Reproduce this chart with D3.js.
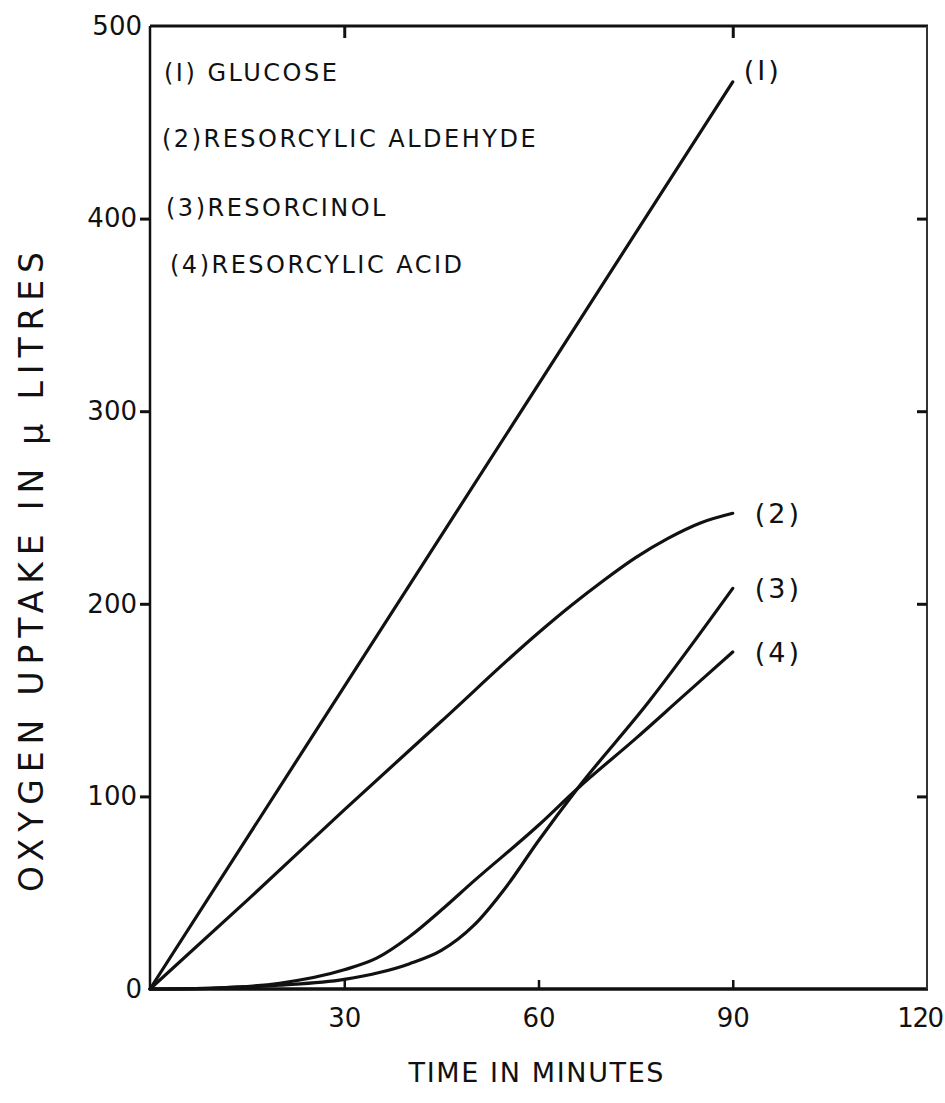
<!DOCTYPE html>
<html>
<head>
<meta charset="utf-8">
<script src="https://cdn.jsdelivr.net/npm/d3@7"></script>
<style>
  html, body { margin: 0; padding: 0; background: #fff; }
  svg { display: block; }
  text { font-family: "DejaVu Sans", sans-serif; fill: #111; }
</style>
</head>
<body>
<svg id="chart" width="945" height="1103"></svg>
<script>
// Oxygen uptake (µl) against time (minutes) for four substrates
const glucoseTime = [0, 90];
const glucoseUptake = [0, 471];

const aldehydeTime = [0, 15, 30, 45, 60, 65, 70, 75, 80, 85, 90];
const aldehydeUptake = [0, 46, 93, 139, 185, 199, 212, 224, 234, 242, 247];

const resorcinolTime = [0, 10, 20, 30, 40, 45, 50, 55, 60, 66, 77, 90];
const resorcinolUptake = [0, 0.5, 2, 5, 13, 20, 33, 53, 77, 104, 149, 208];

const acidTime = [0, 10, 20, 30, 35, 40, 45, 50, 60, 66, 75, 82, 90];
const acidUptake = [0, 0.5, 3, 10, 16, 27, 41, 56, 85, 104, 130, 151, 175];

const seriesTags = ["(I)", "(2)", "(3)", "(4)"];
const legendLines = ["(I) GLUCOSE", "(2)RESORCYLIC ALDEHYDE", "(3)RESORCINOL", "(4)RESORCYLIC ACID"];

const xTickValues = [30, 60, 90, 120];
const yTickValues = [0, 100, 200, 300, 400, 500];

const series = [
  { time: glucoseTime, uptake: glucoseUptake },
  { time: aldehydeTime, uptake: aldehydeUptake },
  { time: resorcinolTime, uptake: resorcinolUptake },
  { time: acidTime, uptake: acidUptake }
];

const svg = d3.select("#chart");
const plotLeft = 150, plotRight = 927, plotTop = 26, plotBottom = 989;

const x = d3.scaleLinear().domain([0, 120]).range([plotLeft, plotRight]);
const y = d3.scaleLinear().domain([0, 500]).range([plotBottom, plotTop]);

const ink = "#111";

// frame: heavy left, bottom and top edges, lighter right edge
svg.append("line").attr("x1", plotLeft).attr("x2", plotLeft).attr("y1", plotTop).attr("y2", plotBottom)
  .attr("stroke", ink).attr("stroke-width", 2.5);
svg.append("line").attr("x1", plotLeft).attr("x2", plotRight + 1).attr("y1", plotBottom).attr("y2", plotBottom)
  .attr("stroke", ink).attr("stroke-width", 3.5);
svg.append("line").attr("x1", plotLeft).attr("x2", plotRight + 1).attr("y1", plotTop).attr("y2", plotTop)
  .attr("stroke", ink).attr("stroke-width", 3);
svg.append("line").attr("x1", plotRight).attr("x2", plotRight).attr("y1", plotTop).attr("y2", plotBottom)
  .attr("stroke", "#333").attr("stroke-width", 2);

// left axis: outward ticks and labels
const yAxisLeft = d3.axisLeft(y).tickValues(yTickValues)
  .tickSize(10).tickPadding(3).tickFormat(d3.format("d"));
const gl = svg.append("g").attr("transform", `translate(${plotLeft},0)`).call(yAxisLeft);
gl.select(".domain").remove();
gl.selectAll(".tick line").attr("stroke", ink).attr("stroke-width", 3)
  .attr("display", d => (d === 0 || d === 500) ? "none" : null);
gl.selectAll(".tick text").attr("font-size", 26).attr("fill", ink)
  .attr("x", d => (d === 0 || d === 500) ? -8 : -13);

// right edge: inward ticks
const yAxisRight = d3.axisLeft(y).tickValues([100, 200, 300, 400]).tickSize(10).tickFormat("");
const gr = svg.append("g").attr("transform", `translate(${plotRight},0)`).call(yAxisRight);
gr.select(".domain").remove();
gr.selectAll(".tick line").attr("stroke", ink).attr("stroke-width", 3);

// bottom axis: labels below, short inward ticks
const xAxisBottom = d3.axisBottom(x).tickValues(xTickValues)
  .tickSize(0).tickPadding(20).tickFormat(d3.format("d"));
const gb = svg.append("g").attr("transform", `translate(0,${plotBottom})`).call(xAxisBottom);
gb.select(".domain").remove();
gb.selectAll(".tick text").attr("font-size", 26).attr("fill", ink).attr("dy", "0.71em")
  .attr("letter-spacing", d => d === 120 ? -1.5 : 0)
  .attr("text-anchor", d => d === 120 ? "end" : "middle")
  .attr("x", d => d === 120 ? 15 : 0);
const xAxisBottomTicks = d3.axisTop(x).tickValues([30, 60, 90]).tickSize(9).tickFormat("");
const gbt = svg.append("g").attr("transform", `translate(0,${plotBottom})`).call(xAxisBottomTicks);
gbt.select(".domain").remove();
gbt.selectAll(".tick line").attr("stroke", ink).attr("stroke-width", 2.5);

// top edge: inward ticks
const xAxisTop = d3.axisBottom(x).tickValues([30, 90]).tickSize(12).tickFormat("");
const gt = svg.append("g").attr("transform", `translate(0,${plotTop})`).call(xAxisTop);
gt.select(".domain").remove();
gt.selectAll(".tick line").attr("stroke", ink).attr("stroke-width", 3);

// curves
const line = d3.line()
  .x(d => x(d[0]))
  .y(d => y(d[1]))
  .curve(d3.curveMonotoneX);

series.forEach((s, i) => {
  const pts = s.time.map((t, k) => [t, s.uptake[k]]);
  svg.append("path")
    .datum(pts)
    .attr("d", line)
    .attr("fill", "none")
    .attr("stroke", ink)
    .attr("stroke-width", 3.2)
    .attr("stroke-linecap", "round");

  const last = pts[pts.length - 1];
  svg.append("text")
    .attr("x", x(last[0]) + (i === 0 ? 11 : 22))
    .attr("y", y(last[1]) - (i === 0 ? 12 : 0))
    .attr("dy", "0.36em")
    .attr("font-size", 27)
    .attr("letter-spacing", 3)
    .text(seriesTags[i]);
});

// key in the upper-left corner
const legendX = [164, 162, 166, 170];
const legendY = [72, 138, 207, 264];
legendLines.forEach((t, i) => {
  svg.append("text")
    .attr("x", legendX[i])
    .attr("y", legendY[i])
    .attr("dy", "0.36em")
    .attr("font-size", 24)
    .attr("letter-spacing", 2.5)
    .text(t);
});

// axis titles
svg.append("text")
  .attr("x", 536)
  .attr("y", 1072)
  .attr("dy", "0.36em")
  .attr("text-anchor", "middle")
  .attr("font-size", 27)
  .attr("textLength", 255)
  .attr("lengthAdjust", "spacing")
  .text("TIME IN MINUTES");

svg.append("text")
  .attr("transform", "translate(31,572) rotate(-90)")
  .attr("dy", "0.36em")
  .attr("text-anchor", "middle")
  .attr("font-size", 33)
  .attr("textLength", 640)
  .attr("lengthAdjust", "spacing")
  .text("OXYGEN UPTAKE IN μ LITRES");
</script>
</body>
</html>
